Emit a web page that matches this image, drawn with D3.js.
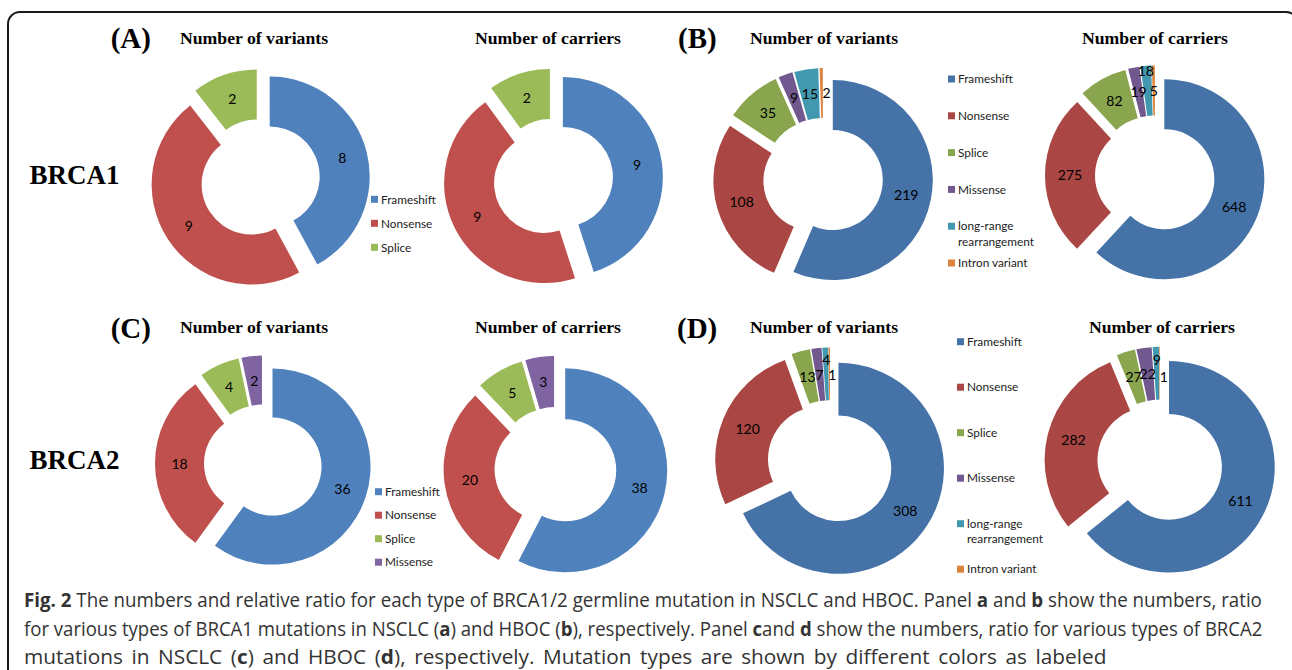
<!DOCTYPE html>
<html>
<head>
<meta charset="utf-8">
<script src="https://cdn.jsdelivr.net/npm/d3@7"></script>
<style>
  body { margin: 0; background: #fff; }
  svg { display: block; }
</style>
</head>
<body>
<svg id="fig" width="1292" height="670"></svg>
<script>
// ---- data ----
const nsclcBrca1Types = ["Frameshift", "Nonsense", "Splice"];
const nsclcBrca2Types = ["Frameshift", "Nonsense", "Splice", "Missense"];
const hbocTypes = ["Frameshift", "Nonsense", "Splice", "Missense", "long-range rearrangement", "Intron variant"];

const brca1NsclcVariants = [8, 9, 2];
const brca1NsclcCarriers = [9, 9, 2];
const brca1HbocVariants  = [219, 108, 35, 9, 15, 2];
const brca1HbocCarriers  = [648, 275, 82, 19, 18, 5];
const brca2NsclcVariants = [36, 18, 4, 2];
const brca2NsclcCarriers = [38, 20, 5, 3];
const brca2HbocVariants  = [308, 120, 13, 7, 4, 1];
const brca2HbocCarriers  = [611, 282, 27, 22, 9, 1];

const nsclcColors = ["#4F81BD", "#C0504D", "#9BBB59", "#8064A2"];
const hbocColors  = ["#4572A7", "#AA4643", "#89A54E", "#71588F", "#4198AF", "#DB843D"];

const panelLetters = ["(A)", "(B)", "(C)", "(D)"];
const geneNames = ["BRCA1", "BRCA2"];
const chartTitles = ["Number of variants", "Number of carriers"];

// caption, split in the same three lines as the figure; second item = bold
const captionLines = [
  [["Fig. 2", true], [" The numbers and relative ratio for each type of BRCA1/2 germline mutation in NSCLC and HBOC. Panel ", false],
   ["a", true], [" and ", false], ["b", true], [" show the numbers, ratio", false]],
  [["for various types of BRCA1 mutations in NSCLC (", false], ["a", true], [") and HBOC (", false], ["b", true],
   ["), respectively. Panel ", false], ["c", true], ["and ", false], ["d", true], [" show the numbers, ratio for various types of BRCA2", false]],
  [["mutations in NSCLC (", false], ["c", true], [") and HBOC (", false], ["d", true],
   ["), respectively. Mutation types are shown by different colors as labeled", false]]
];

// ---- layout ----
const svg = d3.select("#fig");
const explode = 10;

// frame
svg.append("rect")
  .attr("x", 8).attr("y", 12).attr("width", 1290).attr("height", 700).attr("rx", 12)
  .attr("fill", "none").attr("stroke", "#1a1a1a").attr("stroke-width", 2);

const charts = [
  { values: brca1NsclcVariants, colors: nsclcColors, cx: 260,   cy: 179,   R: 100,   title: 0, tx: 254,  ty: 44 },
  { values: brca1NsclcCarriers, colors: nsclcColors, cx: 553,   cy: 178.5, R: 100,   title: 1, tx: 548,  ty: 44 },
  { values: brca1HbocVariants,  colors: hbocColors,  cx: 823,   cy: 178,   R: 100,   title: 0, tx: 824,  ty: 44,
    nudge: { 5: [5, 0] } },
  { values: brca1HbocCarriers,  colors: hbocColors,  cx: 1155,  cy: 175.5, R: 100,   title: 1, tx: 1155, ty: 44,
    nudge: { 4: [-2, -20] } },
  { values: brca2NsclcVariants, colors: nsclcColors, cx: 263,   cy: 463.5, R: 98,    title: 0, tx: 254,  ty: 333 },
  { values: brca2NsclcCarriers, colors: nsclcColors, cx: 555.5, cy: 468,   R: 102,   title: 1, tx: 548,  ty: 333 },
  { values: brca2HbocVariants,  colors: hbocColors,  cx: 830,   cy: 463,   R: 105.5, title: 0, tx: 824,  ty: 333,
    nudge: { 4: [0, -14], 5: [3, 1] } },
  { values: brca2HbocCarriers,  colors: hbocColors,  cx: 1160,  cy: 462.5, R: 105.7, title: 1, tx: 1162, ty: 333,
    nudge: { 4: [0, -13], 5: [4, 4] } }
];

const legends = [
  { types: nsclcBrca1Types, colors: nsclcColors, x: 371, y: 199.3, step: 24 },
  { types: hbocTypes,       colors: hbocColors,  x: 948, y: 79,    step: 36.8 },
  { types: nsclcBrca2Types, colors: nsclcColors, x: 375, y: 491.7, step: 23.5 },
  { types: hbocTypes,       colors: hbocColors,  x: 957, y: 341.7, step: 45.5 }
];

const serif = "'Liberation Serif', 'Times New Roman', serif";
const labelFont = "Lato, 'Open Sans', sans-serif";

// panel letters and gene names
[[110.7, 48], [678, 48], [110.7, 338], [677, 338]].forEach((p, i) => {
  svg.append("text").attr("x", p[0]).attr("y", p[1])
    .attr("font-family", serif).attr("font-weight", "bold").attr("font-size", 29)
    .text(panelLetters[i]);
});
[184, 469].forEach((y, i) => {
  svg.append("text").attr("x", 29.5).attr("y", y)
    .attr("font-family", serif).attr("font-weight", "bold").attr("font-size", 27)
    .text(geneNames[i]);
});

// doughnuts
const pie = d3.pie().sort(null).value(d => d);

charts.forEach(c => {
  const arc = d3.arc().innerRadius(c.R / 2).outerRadius(c.R);
  const push = d => {
    const a = (d.startAngle + d.endAngle) / 2;
    return [Math.sin(a) * explode, -Math.cos(a) * explode];
  };
  const nudge = c.nudge || {};
  const slices = pie(c.values);

  svg.append("text")
    .attr("x", c.tx).attr("y", c.ty).attr("text-anchor", "middle")
    .attr("font-family", serif).attr("font-weight", "bold").attr("font-size", 17.7)
    .text(chartTitles[c.title]);

  const g = svg.append("g").attr("transform", `translate(${c.cx},${c.cy})`);

  g.selectAll("path").data(slices).join("path")
    .attr("d", arc)
    .attr("fill", (d, i) => c.colors[i])
    .attr("transform", d => `translate(${push(d)})`);

  g.selectAll("text").data(slices).join("text")
    .attr("x", (d, i) => arc.centroid(d)[0] + push(d)[0] + (nudge[i] ? nudge[i][0] : 0))
    .attr("y", (d, i) => arc.centroid(d)[1] + push(d)[1] + (nudge[i] ? nudge[i][1] : 0))
    .attr("dy", "0.36em")
    .attr("text-anchor", "middle")
    .attr("font-family", labelFont).attr("font-size", 14).attr("fill", "#000")
    .text(d => d.data);
});

// legends
function drawLegends() {
  legends.forEach(l => {
    const g = svg.append("g");
    l.types.forEach((t, i) => {
      const y = l.y + i * l.step;
      g.append("rect").attr("x", l.x).attr("y", y - 3.5).attr("width", 7).attr("height", 7)
        .attr("fill", l.colors[i]);
      const txt = g.append("text").attr("x", l.x + 10).attr("y", y).attr("dy", "0.36em")
        .attr("font-family", labelFont).attr("font-size", 11.8).attr("fill", "#222");
      // simple word wrap at ~80px
      let line = [], ts = txt.append("tspan").attr("x", l.x + 10);
      t.split(" ").forEach(w => {
        line.push(w);
        ts.text(line.join(" "));
        if (ts.node().getComputedTextLength() > 80 && line.length > 1) {
          line.pop();
          ts.text(line.join(" "));
          line = [w];
          ts = txt.append("tspan").attr("x", l.x + 10).attr("dy", "1.3em").text(w);
        }
      });
    });
  });
}

// caption: each line fitted to the width it has in the figure
function drawCaption() {
  const capX = 24;
  const capEnd = [1263, 1263, 1107];
  const capBase = [607, 636, 664];
  const capSpacing = [0, 0, 3];
  captionLines.forEach((segs, li) => {
    const g = svg.append("g");
    const t = g.append("text").attr("x", 0).attr("y", 0)
      .attr("font-family", "'Open Sans', 'Noto Sans', sans-serif")
      .attr("font-size", 19.5).attr("fill", "#333")
      .attr("word-spacing", capSpacing[li]);
    segs.forEach(s => t.append("tspan").attr("font-weight", s[1] ? "bold" : null).text(s[0]));
    const w = t.node().getBBox().width;
    g.attr("transform", `translate(${capX},${capBase[li]}) scale(${(capEnd[li] - capX) / w},1)`);
  });
}

document.fonts.ready.then(() => {
  drawLegends();
  drawCaption();
});
</script>
</body>
</html>
